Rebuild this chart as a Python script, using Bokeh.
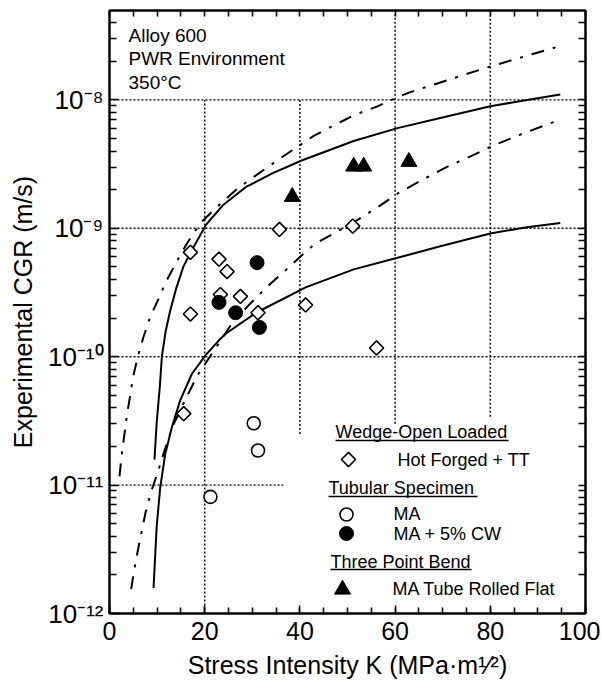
import numpy as np
from bokeh.plotting import figure
from bokeh.models import Range1d, FixedTicker, LinearAxis, LogAxis, Label, LinearScale
from bokeh.embed import file_html
from bokeh.resources import INLINE

FONT = "Liberation Sans"

# ---------------- data ----------------
# Wedge-Open Loaded, Hot Forged + TT (open diamonds)
wol_k = [15.6, 17.0, 17.0, 23.0, 24.7, 23.3, 27.5, 31.2, 35.7, 41.2, 51.1, 56.1]
wol_cgr = [3.6e-11, 6.5e-10, 2.15e-10, 5.75e-10, 4.6e-10, 3.05e-10, 2.95e-10,
           2.2e-10, 9.8e-10, 2.53e-10, 1.04e-9, 1.17e-10]

# Tubular specimen, MA (open circles)
ma_k = [30.3, 31.2, 21.2]
ma_cgr = [3.03e-11, 1.86e-11, 8.1e-12]

# Tubular specimen, MA + 5% CW (filled circles)
cw_k = [31.0, 23.0, 26.5, 31.5]
cw_cgr = [5.4e-10, 2.65e-10, 2.2e-10, 1.69e-10]

# Three point bend, MA tube rolled flat (filled triangles)
tpb_k = [38.4, 51.3, 53.4, 62.9]
tpb_cgr = [1.76e-9, 3.03e-9, 3.03e-9, 3.3e-9]

# Upper solid curve
us_k = [9.45, 9.9, 10.6, 11.0, 11.8, 12.7, 14.0, 15.5, 17.3, 20.3, 23.8, 28.6,
        34.3, 40.5, 51.3, 60.5, 69.5, 80.0, 87.7, 94.7]
us_cgr = [1.58e-11, 3.02e-11, 6.03e-11, 1.00e-10, 1.58e-10, 2.24e-10, 3.39e-10,
          5.01e-10, 6.76e-10, 1.07e-9, 1.51e-9, 2.09e-9, 2.69e-9, 3.39e-9,
          4.79e-9, 6.03e-9, 7.24e-9, 8.91e-9, 1.00e-8, 1.10e-8]

# Lower solid curve
ls_k = [9.25, 9.9, 10.65, 11.7, 13.1, 14.85, 17.3, 20.1, 22.9, 24.4, 30.7, 41.2,
        51.3, 60.5, 69.5, 80.0, 87.7, 94.7]
ls_cgr = [1.58e-12, 4.68e-12, 9.55e-12, 1.74e-11, 2.82e-11, 4.57e-11, 7.33e-11,
          1.02e-10, 1.33e-10, 1.51e-10, 2.19e-10, 3.47e-10, 4.79e-10, 5.89e-10,
          7.24e-10, 9.12e-10, 1.02e-9, 1.10e-9]

# Upper dash-dot curve
ud_k = [2.1, 2.6, 3.15, 3.6, 4.35, 5.0, 5.95, 7.1, 8.55, 10.3, 11.8, 14.1, 16.4,
        19.1, 23.3, 26.9, 30.7, 35.3, 39.3, 42.9, 51.3, 56.3, 60.5, 63.2, 71.6,
        80.0, 89.1, 94.7]
ud_cgr = [1.17e-11, 1.78e-11, 2.51e-11, 3.39e-11, 5.01e-11, 7.08e-11, 1.00e-10,
          1.41e-10, 2.04e-10, 2.82e-10, 3.80e-10, 5.50e-10, 7.76e-10, 1.10e-9,
          1.55e-9, 2.04e-9, 2.57e-9, 3.39e-9, 4.27e-9, 5.25e-9, 7.59e-9, 8.91e-9,
          1.05e-8, 1.15e-8, 1.45e-8, 1.82e-8, 2.29e-8, 2.63e-8]

# Lower dash-dot curve
ld_k = [4.55, 5.25, 5.95, 6.65, 7.6, 8.75, 10.15, 11.3, 13.4, 16.0, 18.4, 25.4,
        29.2, 32.7, 36.9, 40.7, 43.2, 51.1, 56.9, 60.5, 65.3, 71.0, 76.4, 80.4,
        85.6, 94.2]
ld_cgr = [1.55e-12, 2.24e-12, 3.09e-12, 4.17e-12, 6.17e-12, 8.91e-12, 1.26e-11,
          1.74e-11, 2.95e-11, 4.68e-11, 7.08e-11, 1.74e-10, 2.51e-10, 3.39e-10,
          4.68e-10, 6.31e-10, 7.59e-10, 1.10e-9, 1.51e-9, 1.86e-9, 2.34e-9,
          3.02e-9, 3.72e-9, 4.37e-9, 5.25e-9, 6.92e-9]

# Partial dotted grid lines
grid_h_y = [1e-8, 1e-9, 1e-10, 1e-11]
grid_h_x0 = [0, 0, 0, 0]
grid_h_x1 = [100, 100, 100, 36.5]
grid_v_x = [20, 40, 60, 80]
grid_v_y0 = [1e-12, 2.5e-11, 3.0e-11, 3.4e-11]
grid_v_y1 = [1e-8, 1e-8, 5e-8, 5e-8]

# Axes
x_major = [0, 20, 40, 60, 80, 100]
x_minor = list(range(0, 101, 5))
y_decades = [1e-12, 1e-11, 1e-10, 1e-9, 1e-8]
y_minor = [m * d for d in y_decades for m in range(2, 10)]
y_tick_labels = ["10\u207b\u00b9\u00b2", "10\u207b\u00b9\u00b9", "10\u207b\u00b9\u2070",
                 "10\u207b\u2079", "10\u207b\u2078"]
x_title = "Stress Intensity K (MPa\u00b7m\u00b9\u2044\u00b2)"
y_title = "Experimental CGR (m/s)"

# ---------------- figure ----------------
p = figure(width=600, height=688, x_range=Range1d(0, 100),
           y_range=Range1d(1e-12, 4.97e-8), y_axis_type="log",
           output_backend="svg", toolbar_location=None,
           min_border_left=109, min_border_right=15, min_border_top=10,
           min_border_bottom=75)
p.background_fill_color = "white"
p.border_fill_color = "white"
p.outline_line_color = "black"
p.outline_line_width = 2
p.xgrid.visible = False
p.ygrid.visible = False

# page-pixel coordinate system for in-frame annotation layout (frame spans x 109..585, y 10..613)
p.extra_x_ranges = {"page_x": Range1d(109, 585)}
p.extra_y_ranges = {"page_y": Range1d(613, 10)}
p.extra_x_scales = {"page_x": LinearScale()}
p.extra_y_scales = {"page_y": LinearScale()}

xa = p.xaxis[0]
xa.ticker = FixedTicker(ticks=x_major, minor_ticks=x_minor)
ya = p.yaxis[0]
ya.ticker = FixedTicker(ticks=y_decades, minor_ticks=y_minor)
ya.major_label_overrides = dict(zip(y_decades, y_tick_labels))

# mirror axes: tick marks only (all ticks given as minor ticks -> no labels)
top = LinearAxis(ticker=FixedTicker(ticks=[], minor_ticks=x_minor))
right = LogAxis(ticker=FixedTicker(ticks=[], minor_ticks=y_decades + y_minor))
p.add_layout(top, "above")
p.add_layout(right, "right")

for ax in (xa, top):
    ax.major_tick_in = 8
    ax.minor_tick_in = 6
for ax in (ya, right):
    ax.major_tick_in = 9
    ax.minor_tick_in = 7
for ax in (xa, ya, top, right):
    ax.major_tick_out = 0
    ax.minor_tick_out = 0
    ax.axis_line_width = 2
    ax.axis_line_color = "black"
    ax.major_tick_line_color = "black"
    ax.minor_tick_line_color = "black"
    ax.major_tick_line_width = 1.5
    ax.minor_tick_line_width = 1.5
    ax.major_label_text_font = FONT
    ax.major_label_text_color = "black"
for ax in (top, right):
    ax.major_label_standoff = 0

for ax, title in ((xa, x_title), (ya, y_title)):
    ax.axis_label = title
    ax.axis_label_text_font = FONT
    ax.axis_label_text_font_size = "25px"
    ax.axis_label_text_font_style = "normal"
    ax.axis_label_text_color = "black"

xa.major_label_text_font_size = "25px"
xa.major_label_standoff = 8
xa.axis_label_standoff = 8
ya.major_label_text_font_size = "26px"
ya.major_label_standoff = 6
ya.axis_label_standoff = 8

# grid
p.segment(x0=grid_h_x0, y0=grid_h_y, x1=grid_h_x1, y1=grid_h_y,
          line_color="black", line_width=1.4, line_dash="2 2")
p.segment(x0=grid_v_x, y0=grid_v_y0, x1=grid_v_x, y1=grid_v_y1,
          line_color="black", line_width=1.4, line_dash="2 2")

# curves
p.line(us_k, us_cgr, line_color="black", line_width=2)
p.line(ls_k, ls_cgr, line_color="black", line_width=2)
p.line(ud_k, ud_cgr, line_color="black", line_width=2, line_dash="13 9 3 9")
p.line(ld_k, ld_cgr, line_color="black", line_width=2, line_dash="13 9 3 9")

# points
diam = dict(marker="square", angle=np.pi / 4, size=10, fill_color="white",
            line_color="black", line_width=1.6)
ocirc = dict(marker="circle", size=13, fill_color="white", line_color="black", line_width=1.6)
fcirc = dict(marker="circle", size=14, fill_color="black", line_color="black")
tri = dict(marker="triangle", size=16, fill_color="black", line_color="black")
p.scatter(wol_k, wol_cgr, **diam)
p.scatter(ma_k, ma_cgr, **ocirc)
p.scatter(cw_k, cw_cgr, **fcirc)
p.scatter(tpb_k, tpb_cgr, **tri)

# ---------------- legend (page-pixel layout) ----------------
pg = dict(x_range_name="page_x", y_range_name="page_y")
p.scatter([348], [459], **diam, **pg)
p.scatter([346], [514], **ocirc, **pg)
p.scatter([346], [533], **fcirc, **pg)
p.scatter([342], [589], **tri, **pg)

headers = [("Wedge-Open Loaded", 335, 431), ("Tubular Specimen", 328, 487),
           ("Three Point Bend", 330, 561)]
items = [("Hot Forged + TT", 397, 459), ("MA", 393, 513),
         ("MA + 5% CW", 393, 533), ("MA Tube Rolled Flat", 392, 588)]
for txt, x, y in headers + items:
    p.add_layout(Label(x=x, y=y, text=txt, text_font=FONT, text_font_size="18px",
                       text_baseline="middle", text_align="left", text_color="black", **pg))
p.segment(x0=[335, 328, 330], y0=[440, 496, 569], x1=[508, 477, 471], y1=[440, 496, 569],
          line_color="black", line_width=1.3, **pg)

# annotation block
for txt, y in [("Alloy 600", 35), ("PWR Environment", 58), ("350\u00b0C", 82)]:
    p.add_layout(Label(x=128, y=y, text=txt, text_font=FONT, text_font_size="19px",
                       text_baseline="middle", text_align="left", text_color="black", **pg))

open("out.html", "w").write(file_html(p, INLINE))
